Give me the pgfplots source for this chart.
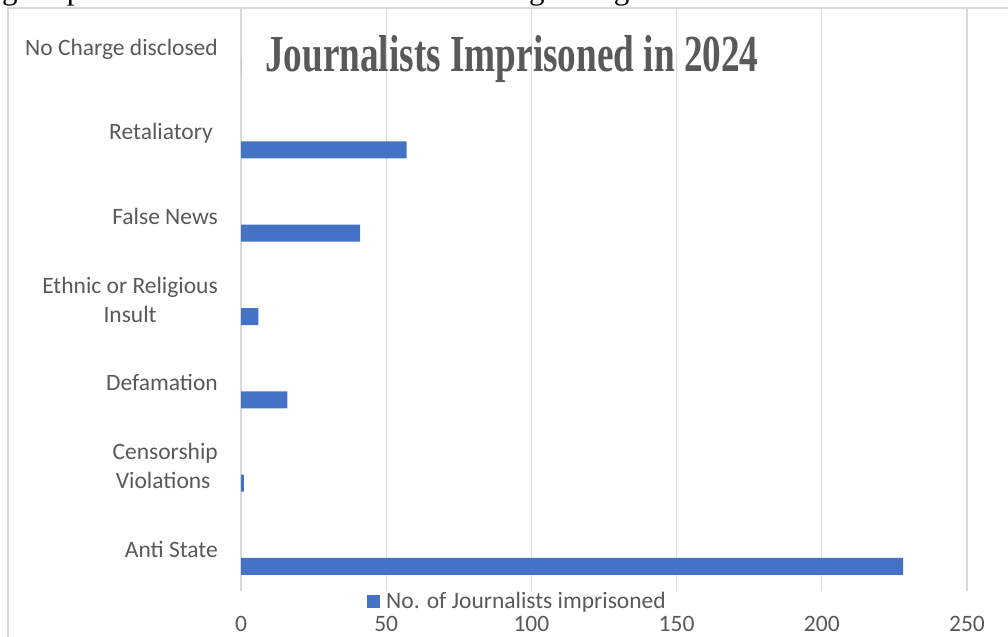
\documentclass[border=0pt]{standalone}
\usepackage{pgfplots}
\pgfplotsset{compat=1.18}
\usepackage{fontspec}
\setmainfont{Carlito}
\newfontfamily\titlefont[FakeStretch=0.716]{Liberation Serif}
\newfontfamily\bodyserif{Liberation Serif}
\definecolor{barblue}{HTML}{4472C4}
\definecolor{txtgray}{HTML}{595959}
\definecolor{gridgray}{HTML}{D9D9D9}
\begin{document}
\begin{tikzpicture}
\useasboundingbox (0,0) rectangle (1008bp,637bp);
% cropped line of body text above the chart
\begin{scope}
\clip (0,629bp) rectangle (1008bp,637bp);
\node[anchor=base west, inner sep=0, font=\bodyserif\fontsize{31bp}{36bp}\selectfont] at (2bp,637.5bp) {g despite calls from international human rights organizations.};
\end{scope}
% chart frame
\draw[gridgray, line width=1.3bp] (8bp,-5bp) -- (8bp,629bp) -- (1015bp,629bp);
\begin{axis}[
  at={(241bp,46bp)}, anchor=south west,
  scale only axis, width=726bp, height=583bp,
  xmin=0, xmax=250, ymin=-0.5, ymax=6.5,
  axis x line*=bottom, axis y line*=left,
  axis line style={draw=none},
  major tick length=0pt,
  xtick={0,50,100,150,200,250},
  ytick={0,1,2,3,4,5,6},
  yticklabels={Anti State,{Censorship\\Violations\hspace*{4bp}},Defamation,{Ethnic or Religious\\Insult},False News,Retaliatory\hspace*{5bp},No Charge disclosed},
  xmajorgrids,
  grid style={gridgray, line width=1.3bp},
  /pgf/number format/assume math mode=true,
  xticklabel style={anchor=base, yshift=-40bp, inner sep=0pt, text=txtgray, font=\fontsize{23.5bp}{28bp}\selectfont},
  yticklabel style={anchor=east, xshift=-23bp, inner sep=0pt, align=center, text=txtgray, font=\fontsize{23.5bp}{29bp}\selectfont},
  legend style={at={(0.3795,-0.0172)}, anchor=center, draw=none, fill=none, inner sep=0pt,
    font=\fontsize{23.5bp}{28bp}\selectfont, text=txtgray, column sep=6bp,
    nodes={inner sep=0pt}},
  legend image code/.code={\fill[barblue] (0bp,-6.5bp) rectangle (13bp,6.5bp);},
]
\addplot[xbar, bar width=17bp, bar shift=-17bp, fill=barblue, draw=none]
  coordinates {(228,0) (1,1) (16,2) (6,3) (41,4) (57,5) (0,6)};
\addlegendentry{No. of Journalists imprisoned}
\end{axis}
\node[anchor=base west, inner sep=0, text=txtgray, font=\titlefont\bfseries\fontsize{52bp}{60bp}\selectfont] at (265bp,565bp) {Journalists Imprisoned in 2024};
\end{tikzpicture}
\end{document}
